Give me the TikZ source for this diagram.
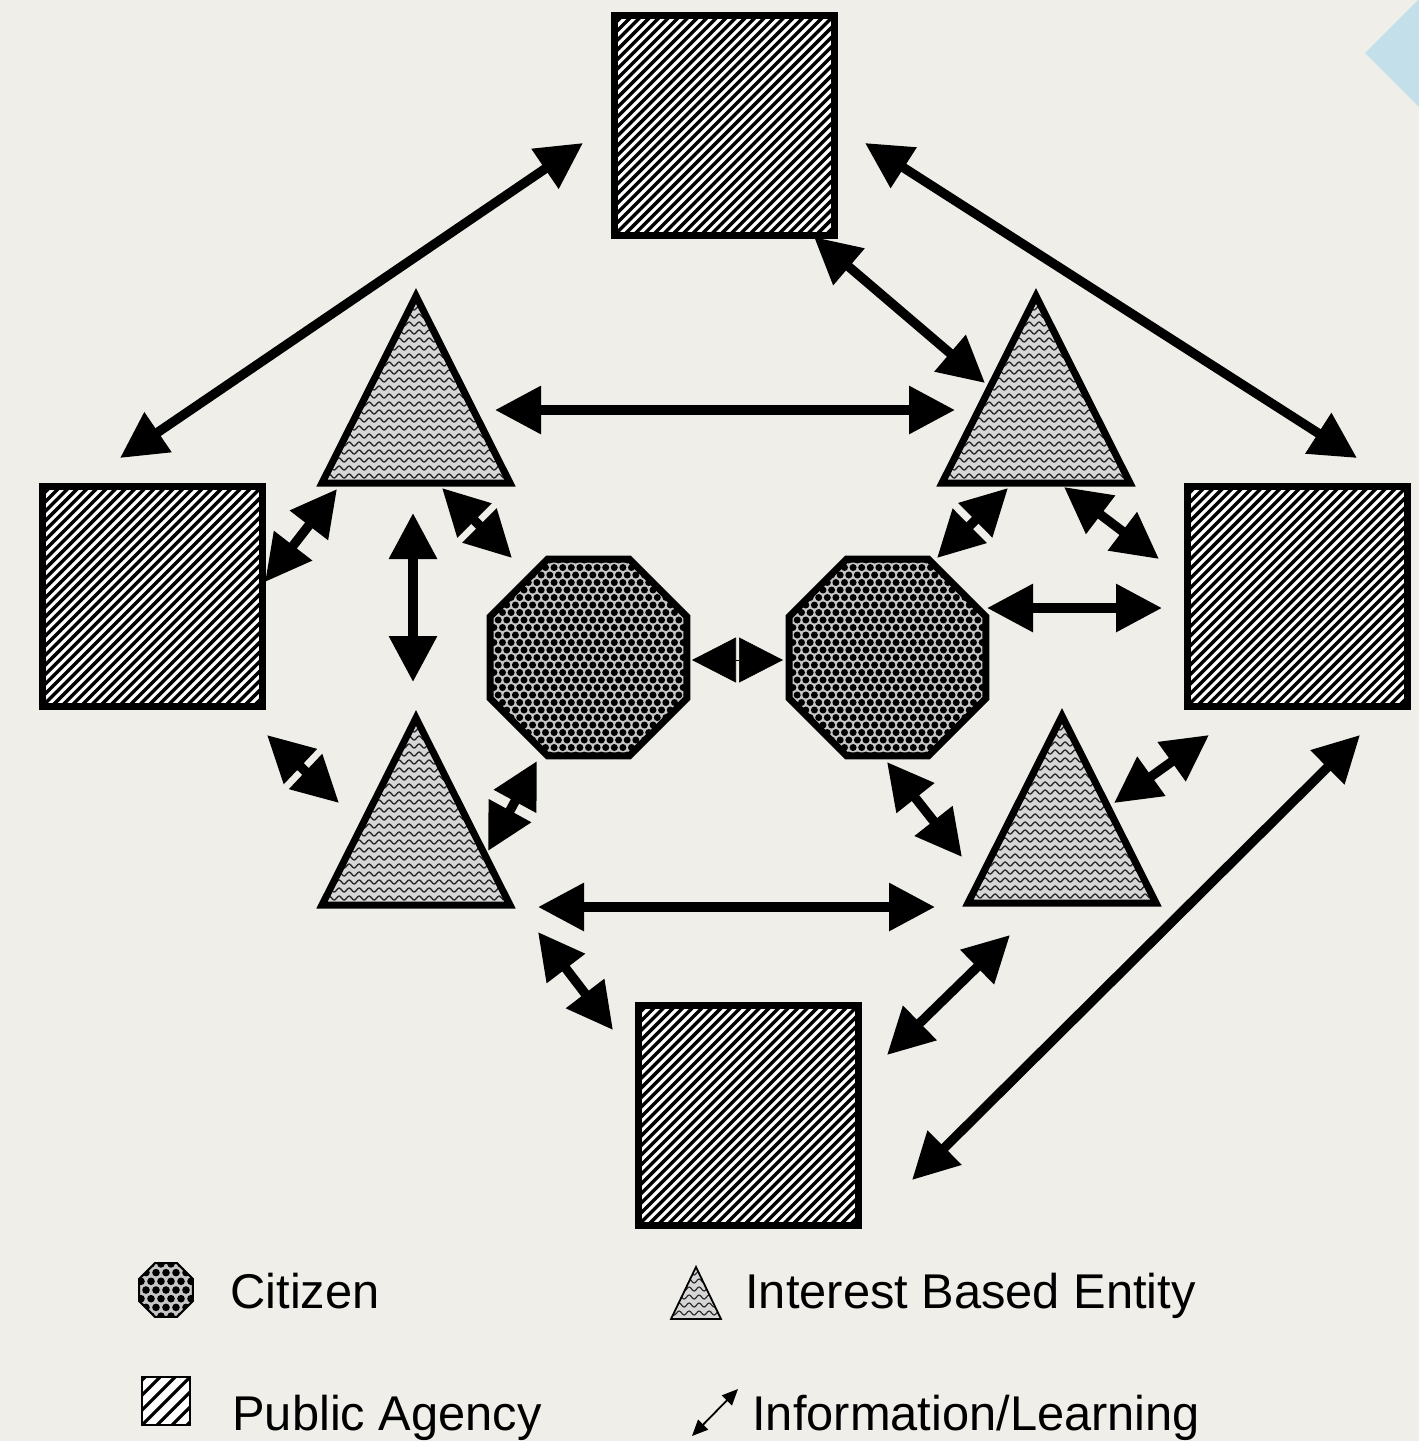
\documentclass[tikz,border=0pt]{standalone}
\usepackage{fontspec}
\setmainfont{Liberation Sans}
\usetikzlibrary{arrows.meta,shapes.geometric,calc,decorations.pathmorphing}

\definecolor{paper}{HTML}{EFEEE8}
\definecolor{tabblue}{HTML}{C2DFEA}
\definecolor{ibegray}{HTML}{D6D6D6}
\definecolor{wavegray}{HTML}{2E2E2E}
\definecolor{dotback}{HTML}{C6C6C6}

% diagonal hatching inside a node: #1 pitch (px), #2 stripe width
\newcommand\hatchlines[2]{%
  \foreach \k in {-30,...,30}
    \draw[black, line width=#2] ([shift={(\k*#1,0)}]path picture bounding box.center) ++(-130,130) -- ++(260,-260);}

% staggered dot screen inside a node: #1 column pitch, #2 row pitch, #3 dot radius
\newcommand\dotscreen[3]{%
  \foreach \j in {-14,...,14}{%
    \foreach \i in {-14,...,14}{%
      \pgfmathsetmacro\dotdx{\i*#1+mod(abs(\j),2)*#1/2}%
      \fill[black] ([shift={(\dotdx,\j*#2)}]path picture bounding box.center) circle[radius=#3];}}}

% interest based entity: #1 name, #2 centre
\newcommand\ibeshape[2]{%
  \coordinate (#1) at (#2);
  \begin{scope}[shift={(#1)}]
    \begin{scope}
      \clip (0,-92) -- (94,95) -- (-94,95) -- cycle;
      \fill[ibegray] (-100,-100) rectangle (100,100);
      \foreach \r in {-88,-80,...,96}
        \draw[wave] (-100,\r) -- (100,\r);
    \end{scope}
    \draw[shapeline] (0,-92) -- (94,95) -- (-94,95) -- cycle;
  \end{scope}}

\tikzset{
  shapeline/.style={draw=black, line width=3.5pt},
  wave/.style={draw=wavegray, line width=0.7pt, decorate,
    decoration={snake, segment length=5pt, amplitude=1pt}},
  agency/.style={rectangle, shapeline, fill=white, minimum size=110pt,
    inner sep=0pt, outer sep=0pt, path picture={\hatchlines{9.6}{1.7pt}}},
  citizen/.style={regular polygon, regular polygon sides=8, shapeline,
    fill=dotback, minimum size=106.6pt, inner sep=0pt, outer sep=0pt,
    path picture={\dotscreen{8.6}{7.5}{3.5}}},
  smallagency/.style={rectangle, draw=black, line width=0.9pt, fill=white,
    minimum size=24pt, inner sep=0pt, path picture={\hatchlines{15}{1.6pt}}},
  smallcitizen/.style={regular polygon, regular polygon sides=8, draw=black,
    line width=1pt, fill=dotback, minimum size=29pt, inner sep=0pt,
    path picture={\dotscreen{10}{8.7}{3.8}}},
  conn/.style={line width=4.7pt,
    {Triangle[length=23pt,width=23pt]}-{Triangle[length=23pt,width=23pt]}},
  touching/.style={line width=0.3pt,
    {Triangle[length=22pt,width=22.5pt]}-{Triangle[length=22pt,width=22.5pt]}},
  legendarrow/.style={line width=0.9pt,
    {Triangle[length=8pt,width=7pt]}-{Triangle[length=8pt,width=7pt]}},
  legendtext/.style={anchor=base west, inner sep=0pt,
    font=\fontsize{24.4pt}{29pt}\selectfont},
}

\begin{document}
\begin{tikzpicture}[x=0.5pt, y=-0.5pt]
  \useasboundingbox (0,0) rectangle (1419,1441);
  \fill[paper] (0,0) rectangle (1419,1441);
  \begin{scope}
    \clip (0,0) rectangle (1419,1441);
    \fill[tabblue] (1365,53) -- (1420,-2) -- (1475,53) -- (1420,108) -- cycle;
  \end{scope}

  % public agencies
  \node[agency] (sqT) at (724.5,125) {};
  \node[agency] (sqL) at (152,596.5) {};
  \node[agency] (sqR) at (1297,596.5) {};
  \node[agency] (sqB) at (748.5,1115) {};

  % citizens
  \node[citizen] (oL) at (588.5,657.5) {};
  \node[citizen] (oR) at (887.5,657.5) {};

  % interest based entities
  \ibeshape{tTL}{416,388}
  \ibeshape{tTR}{1036,388}
  \ibeshape{tBL}{416,810}
  \ibeshape{tBR}{1062,808}

  % information / learning links
  \draw[conn] ($(sqT)+(-141.5,18)$) -- ($(sqL)+(-32,-138.5)$);
  \draw[conn] ($(sqT)+(140.5,18)$) -- ($(sqR)+(60,-138.5)$);
  \draw[conn] ($(sqT)+(89.5,112)$) -- ($(tTR)+(-51,-5)$);
  \draw[conn] ($(tTL)+(79,22)$) -- ($(tTR)+(-81,22)$);
  \draw[conn] ($(sqL)+(113,-14.5)$) -- ($(tTL)+(-79,101)$);
  \draw[conn] ($(tTL)+(26,100)$) -- ($(oL)+(-76.5,-99.5)$);
  \draw[conn] ($(tTL)+(-3,125)$) -- ($(tBL)+(-3,-128)$);
  \draw[conn] ($(sqL)+(115,138.5)$) -- ($(tBL)+(-77,-7)$);
  \draw[conn] ($(oL)+(-51.5,103.5)$) -- ($(tBL)+(72,41)$);
  \draw[touching] ($(oL)+(103.5,2.5)$) -- ($(oR)+(-104.5,2.5)$);
  \draw[conn] ($(tTR)+(-28,100)$) -- ($(oR)+(49.5,-99.5)$);
  \draw[conn] ($(tTR)+(28,99)$) -- ($(sqR)+(-138,-37.5)$);
  \draw[conn] ($(oR)+(99.5,-49.5)$) -- ($(sqR)+(-135,11.5)$);
  \draw[conn] ($(oR)+(-0.5,104.5)$) -- ($(tBR)+(-100,49)$);
  \draw[conn] ($(tBR)+(52,-5)$) -- ($(sqR)+(-88,138.5)$);
  \draw[conn] ($(tBL)+(122,97)$) -- ($(tBR)+(-127,99)$);
  \draw[conn] ($(tBL)+(122,122)$) -- ($(sqB)+(-135.5,-85)$);
  \draw[conn] ($(tBR)+(-52,127)$) -- ($(sqB)+(138.5,-60)$);
  \draw[conn] ($(sqR)+(63,138.5)$) -- ($(sqB)+(163.5,65)$);

  % legend
  \node[smallcitizen] (lgCitIcon) at (166,1290) {};
  \node[legendtext] (lgCit) at (230,1308) {Citizen};
  \node[smallagency] (lgAgIcon) at (166,1401) {};
  \node[legendtext] (lgAg) at (232,1430) {Public Agency};
  \coordinate (lgIbeIcon) at (696,1293);
  \begin{scope}[shift={(lgIbeIcon)}]
    \begin{scope}
      \clip (0,-26) -- (25,26) -- (-25,26) -- cycle;
      \fill[ibegray] (-30,-30) rectangle (30,30);
      \foreach \r in {-20,-12,...,28}
        \draw[wave, line width=0.6pt] (-30,\r) -- (30,\r);
    \end{scope}
    \draw[black, line width=0.9pt] (0,-26) -- (25,26) -- (-25,26) -- cycle;
  \end{scope}
  \node[legendtext] (lgIbe) at (745,1308) {Interest Based Entity};
  \coordinate (lgArrA) at (692,1436);
  \coordinate (lgArrB) at (738,1389);
  \draw[legendarrow] (lgArrA) -- (lgArrB);
  \node[legendtext] (lgInfo) at (752,1430) {Information/Learning};
\end{tikzpicture}
\end{document}
